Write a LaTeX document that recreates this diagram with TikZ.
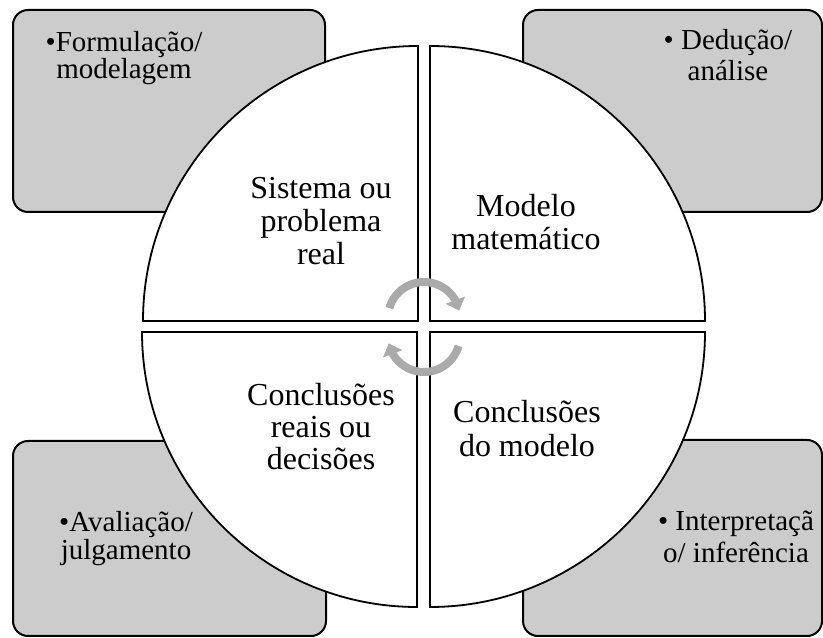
\documentclass[tikz,border=0pt]{standalone}
\usepackage{fontspec}
\setmainfont{Liberation Serif}
\usetikzlibrary{arrows.meta,bending}
\definecolor{boxgray}{RGB}{204,204,204}
\definecolor{arrgray}{RGB}{170,170,170}
\tikzset{
  cornerbox/.style={draw=black,line width=2pt,fill=boxgray,rounded corners=15pt},
  pie/.style={draw=black,line width=1.8pt,fill=white},
  pietext/.style={align=center,anchor=base,inner sep=0pt,font=\fontsize{32}{33}\selectfont},
  cornertext/.style={align=center,anchor=base,inner sep=0pt},
  cyclearrow/.style={draw=arrgray,line width=8pt,-{Triangle[length=11pt,width=20pt,flex]}}
}
\begin{document}
\begin{tikzpicture}[x=1pt,y=1pt]
\useasboundingbox (0,0) rectangle (823,638);
% corner boxes
\draw[cornerbox] (13,426) rectangle (325,628);
\draw[cornerbox] (523,426) rectangle (822,628);
\draw[cornerbox] (13,2) rectangle (326,197);
\draw[cornerbox] (523,2) rectangle (822,198);
% quadrants
\draw[pie] (418,317) -- (143,317) arc (180:90:275) -- cycle;
\draw[pie] (430,317) -- (430,592) arc (90:0:275) -- cycle;
\draw[pie] (417,306) -- (142,306) arc (180:270:275) -- cycle;
\draw[pie] (430,306) -- (705,306) arc (0:-90:275) -- cycle;
% cycle arrows
\draw[cyclearrow] (424,320) ++(164:36) arc (164:12:36);
\draw[cyclearrow] (424,302) ++(-16:36) arc (-16:-168:36);
% quadrant texts (anchor = baseline of last line)
\node[pietext] (sis) at (321,373) {Sistema ou\\problema\\real};
\node[pietext] (mod) at (526,388) {Modelo\\matemático};
\node[pietext,font=\fontsize{32}{32}\selectfont] (cr) at (321,168) {Conclusões\\reais ou\\decisões};
\node[pietext,font=\fontsize{32}{34}\selectfont] (cm) at (527,181) {Conclusões\\do modelo};
% corner texts
\node[cornertext,font=\fontsize{29}{27}\selectfont] (form) at (124,559) {•Formulação/\\modelagem};
\node[cornertext,font=\fontsize{29}{31}\selectfont] (ded) at (728,557) {• Dedução/\\análise};
\node[cornertext,font=\fontsize{29}{28}\selectfont] (aval) at (126,78) {•Avaliação/\\julgamento};
\node[cornertext,font=\fontsize{29}{33}\selectfont] (int) at (736,75) {• Interpretaçã\\o/ inferência};
\end{tikzpicture}
\end{document}
